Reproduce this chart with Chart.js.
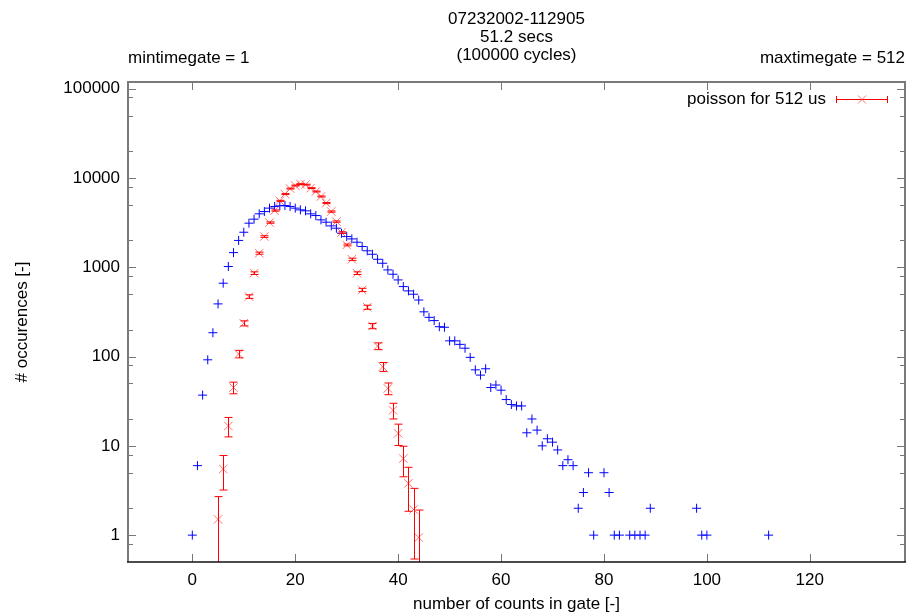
<!DOCTYPE html>
<html>
<head>
<meta charset="utf-8">
<title>counts in gate</title>
<script src="https://cdn.jsdelivr.net/npm/chart.js@4.4.0/dist/chart.umd.min.js"></script>
<style>
  html, body { margin: 0; padding: 0; background: #fff; }
  canvas { display: block; }
</style>
</head>
<body>
<canvas id="gateChart" width="912" height="615"></canvas>
<script>
// Measured histogram (blue +), empty bins left out
const countX = [0, 1, 2, 3, 4, 5, 6, 7, 8, 9, 10, 11, 12, 13, 14, 15, 16, 17, 18, 19,
  20, 21, 22, 23, 24, 25, 26, 27, 28, 29, 30, 31, 32, 33, 34, 35, 36, 37, 38, 39,
  40, 41, 42, 43, 44, 45, 46, 47, 48, 49, 50, 51, 52, 53, 54, 55, 56, 57, 58, 59,
  60, 61, 62, 63, 64, 65, 66, 67, 68, 69, 70, 71, 72, 73, 74, 75, 76, 77, 78,
  80, 81, 82, 83, 85, 86, 87, 88, 89, 98, 99, 100, 112];
const countY = [1, 6, 37, 92, 185, 389, 663, 1020, 1460, 2000, 2470, 3120, 3460, 3970, 4210, 4600, 4800, 4880, 4920, 4800,
  4600, 4400, 4290, 3970, 3800, 3400, 3200, 2910, 2740, 2410, 2210, 2080, 1910, 1710, 1530, 1400, 1230, 1110, 935, 836,
  722, 608, 544, 499, 430, 317, 275, 253, 216, 213, 150, 150, 137, 124, 98, 71, 62, 73, 45, 48,
  42, 33, 29, 28, 28, 14, 20, 15, 10, 12, 11, 9, 6, 7, 6, 2, 3, 5, 1,
  5, 3, 1, 1, 1, 1, 1, 1, 2, 2, 1, 1, 1];

// Poisson expectation (red x with error bars)
const poissonX = [5, 6, 7, 8, 9, 10, 11, 12, 13, 14, 15, 16, 17, 18, 19, 20, 21, 22, 23, 24,
  25, 26, 27, 28, 29, 30, 31, 32, 33, 34, 35, 36, 37, 38, 39, 40, 41, 42, 43, 44];
const poissonY = [1.5, 5.5, 16.7, 45, 107, 236, 470, 860, 1440, 2210, 3170, 4320, 5550, 6610, 7620, 8240, 8550, 8430, 7710, 7060,
  6210, 5240, 4210, 3250, 2450, 1780, 1230, 860, 558, 357, 220, 131, 77, 44, 25, 13.8, 7.2, 3.8, 1.94, 0.94];
const poissonErr = [1.2, 2.3, 4.1, 6.7, 10.3, 15.4, 21.7, 29.3, 37.9, 47, 56.3, 65.7, 74.5, 81.3, 87.3, 90.8, 92.5, 91.8, 87.8, 84,
  78.8, 72.4, 64.9, 57, 49.5, 42.2, 35.1, 29.3, 23.6, 18.9, 14.8, 11.4, 8.8, 6.6, 5, 3.7, 2.7, 1.95, 1.4, 0.97];

// Axes
const xTickValues = [0, 20, 40, 60, 80, 100, 120];
const yTickValues = [1, 10, 100, 1000, 10000, 100000];
const yMinorSteps = [2, 5, 8];

// Texts
const titleLines = ['07232002-112905', '51.2 secs', '(100000 cycles)'];
const leftNote = 'mintimegate = 1';
const rightNote = 'maxtimegate = 512';
const poissonLabel = 'poisson for 512 us';

const FAMILY = '"Liberation Sans", Arial, sans-serif';
const FONT = '17px ' + FAMILY;
const RED = '#ff0000';
const RED_MARK = 'rgba(255,70,70,0.75)';
const BLUE = '#0000ff';

// error bars for the poisson set
const errorBars = {
  id: 'errorBars',
  afterDatasetsDraw(chart) {
    const {ctx, chartArea, scales: {x, y}} = chart;
    ctx.save();
    ctx.beginPath();
    ctx.rect(chartArea.left, chartArea.top, chartArea.right - chartArea.left, chartArea.bottom - chartArea.top);
    ctx.clip();
    ctx.strokeStyle = RED;
    ctx.lineWidth = 1;
    poissonX.forEach((xv, i) => {
      const px = Math.round(x.getPixelForValue(xv)) + 0.5;
      const hi = poissonY[i] + poissonErr[i];
      const lo = poissonY[i] - poissonErr[i];
      const pHi = y.getPixelForValue(hi);
      const pLo = lo > y.min ? y.getPixelForValue(lo) : chartArea.bottom + 2;
      ctx.beginPath();
      ctx.moveTo(px, pHi);
      ctx.lineTo(px, pLo);
      ctx.moveTo(px - 4, pHi);
      ctx.lineTo(px + 4, pHi);
      if (lo > y.min) {
        ctx.moveTo(px - 4, pLo);
        ctx.lineTo(px + 4, pLo);
      }
      ctx.stroke();
    });
    ctx.restore();
  }
};

// gnuplot style frame, inward ticks, labels and key
const gnuplotFrame = {
  id: 'gnuplotFrame',
  afterDraw(chart) {
    const {ctx, chartArea: a, scales: {x, y}} = chart;
    ctx.save();

    // ticks
    ctx.strokeStyle = '#777';
    ctx.lineWidth = 1;
    ctx.beginPath();
    yTickValues.forEach(v => {
      const py = Math.round(y.getPixelForValue(v)) + 0.5;
      ctx.moveTo(a.left, py); ctx.lineTo(a.left + 8, py);
      ctx.moveTo(a.right, py); ctx.lineTo(a.right - 8, py);
      yMinorSteps.forEach(m => {
        const mv = v * m;
        if (mv > y.max) return;
        const pm = Math.round(y.getPixelForValue(mv)) + 0.5;
        ctx.moveTo(a.left, pm); ctx.lineTo(a.left + 5, pm);
        ctx.moveTo(a.right, pm); ctx.lineTo(a.right - 5, pm);
      });
    });
    // minor tick below 1
    const pLow = Math.round(y.getPixelForValue(0.8)) + 0.5;
    ctx.moveTo(a.left, pLow); ctx.lineTo(a.left + 5, pLow);
    ctx.moveTo(a.right, pLow); ctx.lineTo(a.right - 5, pLow);
    xTickValues.forEach(v => {
      const px = Math.round(x.getPixelForValue(v)) + 0.5;
      ctx.moveTo(px, a.bottom); ctx.lineTo(px, a.bottom - 8);
      ctx.moveTo(px, a.top); ctx.lineTo(px, a.top + 8);
    });
    ctx.stroke();

    // border
    ctx.strokeStyle = '#7a7a7a';
    ctx.lineWidth = 2;
    ctx.beginPath();
    ctx.moveTo(a.left, a.bottom);
    ctx.lineTo(a.left, a.top);
    ctx.lineTo(a.right, a.top);
    ctx.lineTo(a.right, a.bottom);
    ctx.stroke();
    ctx.strokeStyle = '#111';
    ctx.lineWidth = 1.5;
    ctx.beginPath();
    ctx.moveTo(a.left - 1, a.bottom);
    ctx.lineTo(a.right + 1, a.bottom);
    ctx.stroke();

    // title and notes
    ctx.fillStyle = '#000';
    ctx.font = FONT;
    ctx.textBaseline = 'middle';
    ctx.textAlign = 'center';
    const cx = (a.left + a.right) / 2;
    titleLines.forEach((t, i) => ctx.fillText(t, cx, 19 + i * 18));
    ctx.textAlign = 'left';
    ctx.fillText(leftNote, a.left, 58);
    ctx.textAlign = 'right';
    ctx.fillText(rightNote, a.right, 58);

    // key
    const ky = 99.5;
    ctx.fillText(poissonLabel, 826, ky);
    ctx.strokeStyle = RED;
    ctx.lineWidth = 1;
    ctx.beginPath();
    ctx.moveTo(836, ky); ctx.lineTo(888, ky);
    ctx.moveTo(836.5, ky - 3.5); ctx.lineTo(836.5, ky + 3.5);
    ctx.moveTo(887.5, ky - 3.5); ctx.lineTo(887.5, ky + 3.5);
    ctx.stroke();
    ctx.strokeStyle = RED_MARK;
    ctx.beginPath();
    ctx.moveTo(858, ky - 4); ctx.lineTo(866, ky + 4);
    ctx.moveTo(858, ky + 4); ctx.lineTo(866, ky - 4);
    ctx.stroke();

    ctx.restore();
  }
};

function initializeChart() {
  const ctx = document.getElementById('gateChart').getContext('2d');
  new Chart(ctx, {
    type: 'scatter',
    data: {
      datasets: [
        {
          label: poissonLabel,
          data: poissonX.map((v, i) => ({x: v, y: poissonY[i]})),
          pointStyle: 'crossRot',
          pointRadius: 6,
          borderColor: RED_MARK,
          backgroundColor: RED_MARK,
          borderWidth: 1
        },
        {
          label: 'counts',
          data: countX.map((v, i) => ({x: v, y: countY[i]})),
          pointStyle: 'cross',
          pointRadius: 4.5,
          borderColor: BLUE,
          backgroundColor: BLUE,
          borderWidth: 1
        }
      ]
    },
    options: {
      responsive: false,
      devicePixelRatio: 1,
      animation: false,
      layout: { padding: { top: 82, right: 2, left: 0, bottom: 0 } },
      plugins: {
        legend: { display: false },
        tooltip: { enabled: false },
        title: { display: false }
      },
      scales: {
        x: {
          type: 'linear',
          min: -12.5,
          max: 138.5,
          grid: { display: false, drawTicks: false },
          border: { display: false },
          ticks: {
            padding: 8,
            color: '#000',
            font: { family: FAMILY, size: 17 },
            includeBounds: false,
            callback: v => String(v)
          },
          afterBuildTicks: axis => { axis.ticks = xTickValues.map(v => ({value: v})); },
          afterFit: axis => {
            axis.height = 53;
            axis.paddingLeft = 0;
            axis.paddingRight = 0;
          },
          title: {
            display: true,
            text: 'number of counts in gate [-]',
            color: '#000',
            font: { family: FAMILY, size: 17 },
            padding: { top: 0, bottom: 0 }
          }
        },
        y: {
          type: 'logarithmic',
          min: 0.5,
          max: 119000,
          grid: { display: false, drawTicks: false },
          border: { display: false },
          ticks: {
            padding: 8,
            color: '#000',
            font: { family: FAMILY, size: 17 },
            autoSkip: false,
            callback: v => String(v)
          },
          afterBuildTicks: axis => { axis.ticks = yTickValues.map(v => ({value: v})); },
          afterFit: axis => {
            axis.width = 128;
            axis.paddingTop = 0;
            axis.paddingBottom = 0;
          },
          title: {
            display: true,
            text: '# occurences [-]',
            color: '#000',
            font: { family: FAMILY, size: 17 },
            padding: { top: 12, bottom: 0 }
          }
        }
      }
    },
    plugins: [errorBars, gnuplotFrame]
  });
}

document.addEventListener('DOMContentLoaded', initializeChart);
</script>
</body>
</html>
